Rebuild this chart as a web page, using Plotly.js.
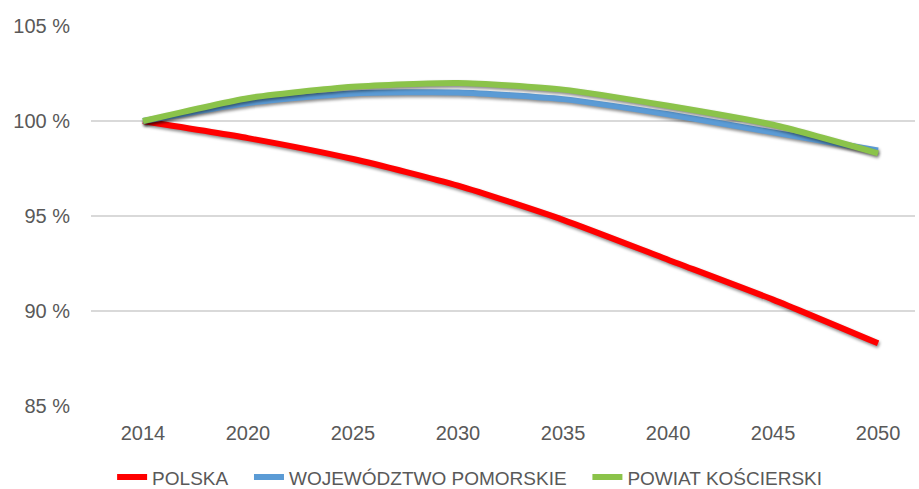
<!DOCTYPE html>
<html>
<head>
<meta charset="utf-8">
<script src="https://cdn.plot.ly/plotly-3.0.1.min.js"></script>
<style>
html,body{margin:0;padding:0;background:#fff;}
#chart{width:919px;height:489px;}
.scatterlayer .js-line{filter:drop-shadow(1px 2px 1.5px rgba(0,0,0,0.45));}
</style>
</head>
<body>
<div id="chart"></div>
<script>
const years = ["2014","2020","2025","2030","2035","2040","2045","2050"];
const polska = [100, 99.1, 98.0, 96.6, 94.8, 92.7, 90.6, 88.3];
const pomorskie = [100, 100.95, 101.45, 101.5, 101.15, 100.35, 99.4, 98.45];
const koscierski = [100, 101.2, 101.8, 102.0, 101.65, 100.8, 99.8, 98.3];
const seriesNames = ['POLSKA', 'WOJEWÓDZTWO POMORSKIE', 'POWIAT KOŚCIERSKI'];
const yTicks = [85, 90, 95, 100, 105];

const txt = '#595959';
const pad = '\u00a0\u00a0\u00a0';
const mk = (name, y, color) => ({
  type: 'scatter', mode: 'lines', name: name, x: years, y: y,
  line: {color: color, width: 6, shape: 'spline', smoothing: 0.6}
});
const data = [
  mk(seriesNames[0] + pad, polska, '#ff0000'),
  mk(seriesNames[1] + pad, pomorskie, '#5b9bd5'),
  mk(seriesNames[2], koscierski, '#8bc34a')
];
const layout = {
  width: 919, height: 489,
  margin: {l: 91, r: 4, t: 25, b: 82},
  paper_bgcolor: '#ffffff', plot_bgcolor: '#ffffff',
  font: {family: '"Liberation Sans", Arial, sans-serif', size: 20, color: txt},
  xaxis: {
    type: 'category', range: [-0.495, 7.352],
    showgrid: false, zeroline: false, showline: false, ticks: '',
    ticklabelstandoff: 12, tickfont: {size: 20, color: txt}
  },
  yaxis: {
    range: [84.95, 105.05], tickvals: yTicks, ticktext: yTicks.map(v => v + ' %'),
    showgrid: true, gridcolor: '#d9d9d9', gridwidth: 1.2, zeroline: false, showline: false,
    ticks: '', ticklabelstandoff: 20, tickfont: {size: 20, color: txt}
  },
  showlegend: true,
  legend: {
    orientation: 'h', xref: 'container', yref: 'container',
    x: 0.511, xanchor: 'center', y: 0.024, yanchor: 'middle',
    font: {family: '"Liberation Sans", Arial, sans-serif', size: 19, color: txt},
    itemwidth: 30, traceorder: 'normal'
  }
};
Plotly.newPlot('chart', data, layout, {displayModeBar: false, staticPlot: true});
</script>
</body>
</html>
